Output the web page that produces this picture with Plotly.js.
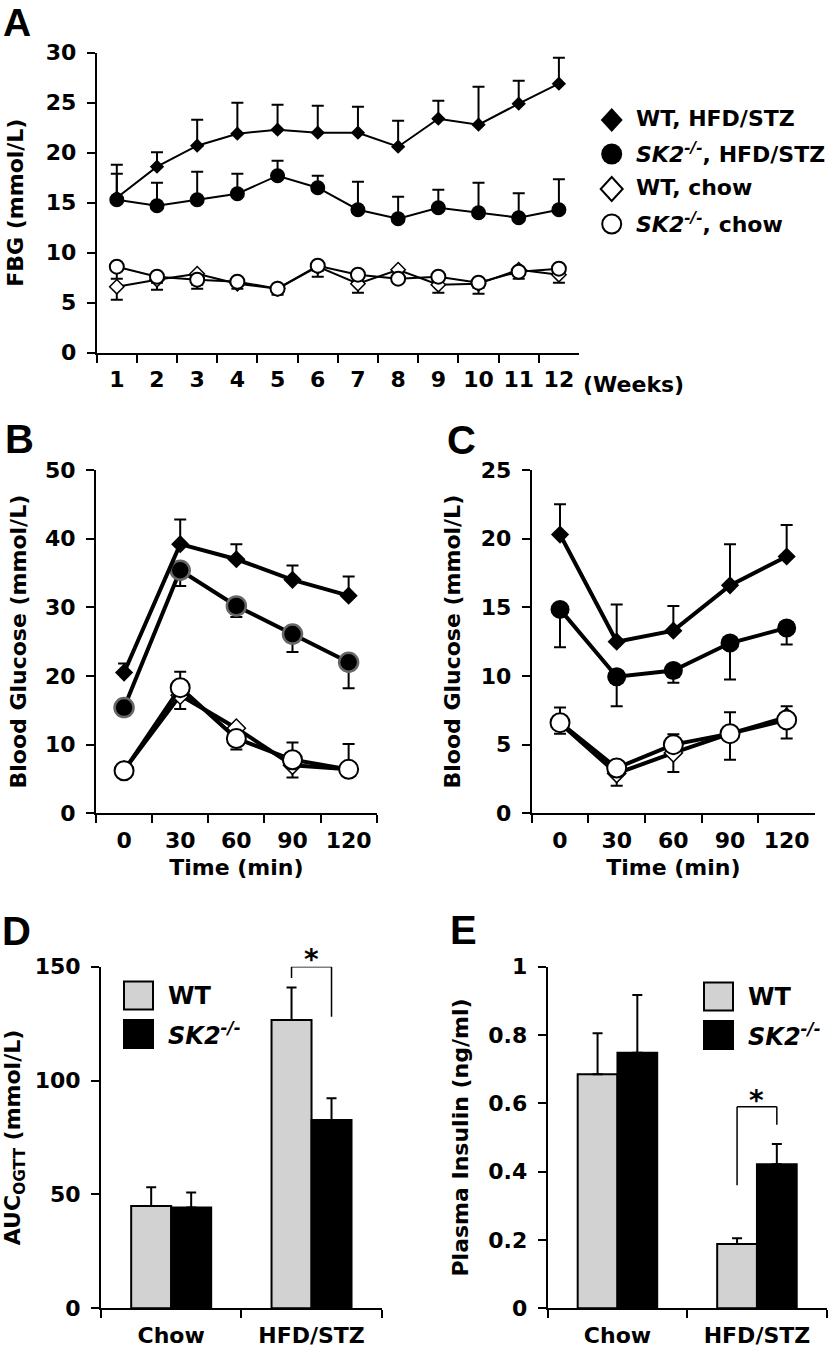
<!DOCTYPE html>
<html><head><meta charset="utf-8">
<script src="https://cdn.plot.ly/plotly-3.0.1.min.js"></script>
<style>html,body{margin:0;padding:0;background:#fff}#chart{width:829px;height:1350px}</style>
</head><body><div id="chart"></div>
<script>
// ---------- data ----------
const weeks = ['1','2','3','4','5','6','7','8','9','10','11','12'];
const fbgWtHfd = [15.5, 18.6, 20.7, 21.9, 22.3, 22.0, 22.0, 20.6, 23.4, 22.8, 24.9, 26.9];
const fbgWtHfdErr = [3.3, 1.45, 2.6, 3.1, 2.5, 2.7, 2.6, 2.6, 1.8, 3.8, 2.3, 2.6];
const fbgSkHfd = [15.3, 14.7, 15.3, 15.9, 17.7, 16.5, 14.3, 13.4, 14.5, 14.0, 13.5, 14.3];
const fbgSkHfdErr = [2.6, 2.3, 2.8, 2.0, 1.5, 1.2, 2.8, 2.2, 1.8, 3.0, 2.45, 3.05];
const fbgWtChow = [6.6, 7.3, 7.9, 6.9, 6.4, 8.6, 6.9, 8.3, 6.8, 6.9, 8.3, 7.8];
const fbgWtChowErr = [1.3, 1.0, 1.5, 0.5, 0.6, 1.0, 0.9, 0.5, 0.8, 1.0, 0.9, 0.8];
const fbgSkChow = [8.6, 7.6, 7.3, 7.1, 6.4, 8.7, 7.8, 7.4, 7.6, 7.0, 8.1, 8.4];
const fbgSkChowErr = [1.2, 0.6, 0.5, 0.4, 0.3, 0.5, 0.5, 0.4, 0.4, 0.5, 0.4, 0.4];

const times = ['0','30','60','90','120'];
const ogttWtHfd = [20.5, 39.2, 37.0, 34.0, 31.7];
const ogttWtHfdErr = [1.3, 3.6, 2.2, 2.1, 2.8];
const ogttSkHfd = [15.4, 35.4, 30.2, 26.1, 22.0];
const ogttSkHfdErr = [0.5, 2.3, 1.6, 2.6, 3.8];
const ogttWtChow = [6.3, 17.2, 12.4, 7.0, 6.4];
const ogttWtChowErr = [0.3, 2.0, 3.1, 1.8, 0.3];
const ogttSkChow = [6.2, 18.3, 10.9, 7.8, 6.4];
const ogttSkChowErr = [0.5, 2.3, 0.5, 2.5, 3.7];

const ittWtHfd = [20.3, 12.5, 13.3, 16.6, 18.7];
const ittWtHfdErr = [2.2, 2.7, 1.8, 3.0, 2.3];
const ittSkHfd = [14.85, 9.95, 10.4, 12.4, 13.5];
const ittSkHfdErr = [2.75, 2.15, 0.9, 2.65, 1.2];
const ittWtChow = [6.55, 2.9, 4.4, 5.8, 7.0];
const ittWtChowErr = [0.75, 0.9, 1.4, 1.9, 1.55];
const ittSkChow = [6.6, 3.3, 5.0, 5.8, 6.8];
const ittSkChowErr = [1.1, 0.5, 0.75, 1.55, 1.0];

const diets = ['Chow', 'HFD/STZ'];
const aucWt = [44.9, 126.6];
const aucWtErr = [8.2, 14.3];
const aucSk = [44.3, 82.7];
const aucSkErr = [6.6, 9.5];
const insWt = [0.685, 0.188];
const insWtErr = [0.12, 0.017];
const insSk = [0.748, 0.422];
const insSkErr = [0.169, 0.059];

const seriesNames = ['WT, HFD/STZ', '<i>SK2<sup>-/-</sup></i>, HFD/STZ', 'WT, chow', '<i>SK2<sup>-/-</sup></i>, chow'];
const barNames = ['WT', '<i>SK2<sup>-/-</sup></i>'];

// ---------- layout helpers ----------
const W = 829, H = 1350;
const FONT = 'DejaVu Sans';
const px = x => x / W;
const py = y => 1 - y / H;
const zeros = a => a.map(() => 0);

function xAxis(domPx, cats, title) {
  return {
    domain: [px(domPx[0]), px(domPx[1])], type: 'category', categoryarray: cats,
    range: [-0.5, cats.length - 0.5], tickson: 'boundaries', tickangle: 0,
    ticks: 'outside', ticklen: 8, tickwidth: 2, tickcolor: 'black',
    showline: true, linewidth: 2, linecolor: 'black', showgrid: false, zeroline: false,
    tickfont: {family: FONT, size: 22, weight: 'bold', color: 'black'},
    ticklabelstandoff: 6,
    title: title ? {text: title, font: {family: FONT, size: 22, weight: 'bold', color: 'black'}, standoff: 8} : {text: ''},
    fixedrange: true
  };
}
function yAxis(domPx, range, dtick, title, standoff) {
  return {
    domain: [py(domPx[1]), py(domPx[0])], range: range, dtick: dtick,
    ticks: 'outside', ticklen: 8, tickwidth: 2, tickcolor: 'black',
    showline: true, linewidth: 2, linecolor: 'black', showgrid: false, zeroline: false,
    tickfont: {family: FONT, size: 22, weight: 'bold', color: 'black'},
    ticklabelstandoff: 6,
    title: {text: title, font: {family: FONT, size: 22, weight: 'bold', color: 'black'}, standoff: standoff},
    fixedrange: true
  };
}

function lineTrace(x, y, err, plus, xa, ya, symbol, fill, size, lw, mlc, mlw, ew) {
  return {
    type: 'scatter', mode: 'lines+markers', x: x, y: y, xaxis: xa, yaxis: ya,
    line: {color: 'black', width: lw},
    marker: {symbol: symbol, size: size, color: fill, line: {color: mlc, width: mlw}},
    error_y: {type: 'data', symmetric: false,
      array: plus ? err : zeros(err), arrayminus: plus ? zeros(err) : err,
      color: 'black', thickness: 2, width: ew},
    cliponaxis: false, showlegend: false, hoverinfo: 'skip'
  };
}

const traces = [
  // A
  lineTrace(weeks, fbgWtChow, fbgWtChowErr, false, 'x', 'y', 'diamond', 'white', 11, 2, 'black', 1.5, 6),
  lineTrace(weeks, fbgSkChow, fbgSkChowErr, false, 'x', 'y', 'circle', 'white', 14, 2, 'black', 2, 6),
  lineTrace(weeks, fbgSkHfd, fbgSkHfdErr, true, 'x', 'y', 'circle', 'black', 15, 2, 'black', 0, 6),
  lineTrace(weeks, fbgWtHfd, fbgWtHfdErr, true, 'x', 'y', 'diamond', 'black', 11, 2, 'black', 0, 6),
  // B
  lineTrace(times, ogttWtChow, ogttWtChowErr, false, 'x2', 'y2', 'diamond', 'white', 14, 4, 'black', 1.5, 6),
  lineTrace(times, ogttSkChow, ogttSkChowErr, true, 'x2', 'y2', 'circle', 'white', 19, 4, 'black', 2, 6),
  lineTrace(times, ogttSkHfd, ogttSkHfdErr, false, 'x2', 'y2', 'circle', 'black', 19, 4, '#666666', 2.5, 6),
  lineTrace(times, ogttWtHfd, ogttWtHfdErr, true, 'x2', 'y2', 'diamond', 'black', 14, 4, 'black', 0, 6),
  // C
  lineTrace(times, ittWtChow, ittWtChowErr, false, 'x3', 'y3', 'diamond', 'white', 14, 4, 'black', 1.5, 6),
  lineTrace(times, ittSkChow, ittSkChowErr, true, 'x3', 'y3', 'circle', 'white', 19, 4, 'black', 2, 6),
  lineTrace(times, ittSkHfd, ittSkHfdErr, false, 'x3', 'y3', 'circle', 'black', 19, 4, 'black', 0, 6),
  lineTrace(times, ittWtHfd, ittWtHfdErr, true, 'x3', 'y3', 'diamond', 'black', 14, 4, 'black', 0, 6)
];

function barTrace(x, y, err, xa, ya, color) {
  return {
    type: 'bar', x: x, y: y, xaxis: xa, yaxis: ya,
    marker: {color: color, line: {color: 'black', width: 2}},
    error_y: {type: 'data', symmetric: false, array: err, arrayminus: zeros(err), color: 'black', thickness: 2, width: 5},
    cliponaxis: false, showlegend: false, hoverinfo: 'skip'
  };
}
const GREY = '#d2d2d2';
traces.push(barTrace(diets, aucWt, aucWtErr, 'x4', 'y4', GREY));
traces.push(barTrace(diets, aucSk, aucSkErr, 'x4', 'y4', 'black'));
traces.push(barTrace(diets, insWt, insWtErr, 'x5', 'y5', GREY));
traces.push(barTrace(diets, insSk, insSkErr, 'x5', 'y5', 'black'));

const BARGAP = 0.43;
const off = (1 - BARGAP) / 4;   // offset of each bar centre from the category centre

const shapes = [];
const annotations = [];

// panel letters
annotations.push({text: 'A', xref: 'paper', yref: 'paper', x: px(2), y: 1, xanchor: 'left', yanchor: 'top',
  showarrow: false, borderpad: 0, font: {family: 'Liberation Sans', size: 39, weight: 'bold', color: 'black'}});
[['B', 3, 439], ['C', 445, 440], ['D', 0, 931], ['E', 448, 930]].forEach(([t, x, y]) => {
  annotations.push({text: t, xref: 'paper', yref: 'paper', x: px(x), y: py(y), xanchor: 'left', yanchor: 'middle',
    showarrow: false, font: {family: 'Liberation Sans', size: 40, weight: 'bold', color: 'black'}});
});

// "(Weeks)"
annotations.push({text: '(Weeks)', xref: 'paper', yref: 'paper', x: px(581), y: py(384), xanchor: 'left', yanchor: 'middle',
  showarrow: false, font: {family: FONT, size: 22, weight: 'bold', color: 'black'}});

// legend A
const legRows = [[120, 'diamond', 'black'], [154, 'circle', 'black'], [189, 'diamond', 'white'], [224, 'circle', 'white']];
const LX = 611.7;
legRows.forEach(([y, sym, fill], i) => {
  if (sym === 'diamond') {
    const hw = 11, hh = 12;
    shapes.push({type: 'path', xref: 'paper', yref: 'paper',
      path: `M ${px(LX)} ${py(y - hh)} L ${px(LX + hw)} ${py(y)} L ${px(LX)} ${py(y + hh)} L ${px(LX - hw)} ${py(y)} Z`,
      fillcolor: fill, line: {color: 'black', width: fill === 'white' ? 2 : 0}});
  } else {
    const r = fill === 'white' ? 9.5 : 10.5;
    shapes.push({type: 'circle', xref: 'paper', yref: 'paper',
      x0: px(LX - r), x1: px(LX + r), y0: py(y + r), y1: py(y - r),
      fillcolor: fill, line: {color: 'black', width: fill === 'white' ? 2 : 0}});
  }
  annotations.push({text: seriesNames[i], xref: 'paper', yref: 'paper', x: px(634), y: py(y - 1), xanchor: 'left', yanchor: 'middle',
    showarrow: false, font: {family: FONT, size: 22, weight: 'bold', color: 'black'}});
});

// legends D and E (boxes + labels)
function barLegend(x0, x1, yTop, textX) {
  const boxes = [[yTop, GREY], [yTop + 38.5, 'black']];
  boxes.forEach(([y, c], i) => {
    shapes.push({type: 'rect', xref: 'paper', yref: 'paper', x0: px(x0), x1: px(x1), y0: py(y + 28), y1: py(y),
      fillcolor: c, line: {color: 'black', width: 2}});
    annotations.push({text: barNames[i], xref: 'paper', yref: 'paper', x: px(textX), y: py(y + 14), xanchor: 'left', yanchor: 'middle',
      showarrow: false, font: {family: FONT, size: 24, weight: 'bold', color: 'black'}});
  });
}
barLegend(124, 153, 981.5, 166);
barLegend(704, 733, 982.5, 746);

// significance brackets (star placed in paper units so it may sit above the axis range)
function bracket(xa, ya, yaxObj, yTop, yLeft, yRight, yStar) {
  const common = {type: 'line', xref: xa, yref: ya, line: {color: 'black', width: 1.5}};
  shapes.push(Object.assign({x0: 1 - off, x1: 1 - off, y0: yLeft, y1: yTop}, common));
  shapes.push(Object.assign({x0: 1 - off, x1: 1 + off, y0: yTop, y1: yTop}, common));
  shapes.push(Object.assign({x0: 1 + off, x1: 1 + off, y0: yTop, y1: yRight}, common));
  const d = yaxObj.domain, r = yaxObj.range;
  const yPaper = d[0] + (yStar - r[0]) / (r[1] - r[0]) * (d[1] - d[0]);
  annotations.push({text: '*', xref: xa, yref: 'paper', x: 1, y: yPaper, xanchor: 'center', yanchor: 'middle', showarrow: false,
    font: {family: FONT, size: 28, weight: 'bold', color: 'black'}});
}

const layout = {
  width: W, height: H, margin: {l: 0, r: 0, t: 0, b: 0},
  paper_bgcolor: 'white', plot_bgcolor: 'rgba(0,0,0,0)',
  showlegend: false, barmode: 'group', bargap: BARGAP, bargroupgap: 0,
  font: {family: FONT, color: 'black'},
  xaxis: Object.assign(xAxis([96.7, 579], weeks, ''), {anchor: 'y'}),
  yaxis: Object.assign(yAxis([52.7, 352.7], [0, 30], 5, 'FBG (mmol/L)', 16), {anchor: 'x'}),
  xaxis2: Object.assign(xAxis([96, 376.7], times, 'Time (min)'), {anchor: 'y2'}),
  yaxis2: Object.assign(yAxis([470, 813.3], [0, 50], 10, 'Blood Glucose (mmol/L)', 12), {anchor: 'x2'}),
  xaxis3: Object.assign(xAxis([531.7, 815], times, 'Time (min)'), {anchor: 'y3'}),
  yaxis3: Object.assign(yAxis([470, 813.3], [0, 25], 5, 'Blood Glucose (mmol/L)', 14), {anchor: 'x3'}),
  xaxis4: Object.assign(xAxis([101, 381.7], diets, ''), {anchor: 'y4'}),
  yaxis4: Object.assign(yAxis([966.7, 1308.3], [0, 150], 50, 'AUC<sub>OGTT</sub> (mmol/L)', 10), {anchor: 'x4'}),
  xaxis5: Object.assign(xAxis([547.7, 826.7], diets, ''), {anchor: 'y5'}),
  yaxis5: Object.assign(yAxis([966.7, 1308.3], [0, 1], 0.2, 'Plasma Insulin (ng/ml)', 14), {anchor: 'x5'}),
  shapes: shapes, annotations: annotations
};
bracket('x4', 'y4', layout.yaxis4, 150, 145, 128, 153.3);
bracket('x5', 'y5', layout.yaxis5, 0.59, 0.36, 0.537, 0.607);

Plotly.newPlot('chart', traces, layout, {staticPlot: true, displayModeBar: false});
</script>
</body></html>
